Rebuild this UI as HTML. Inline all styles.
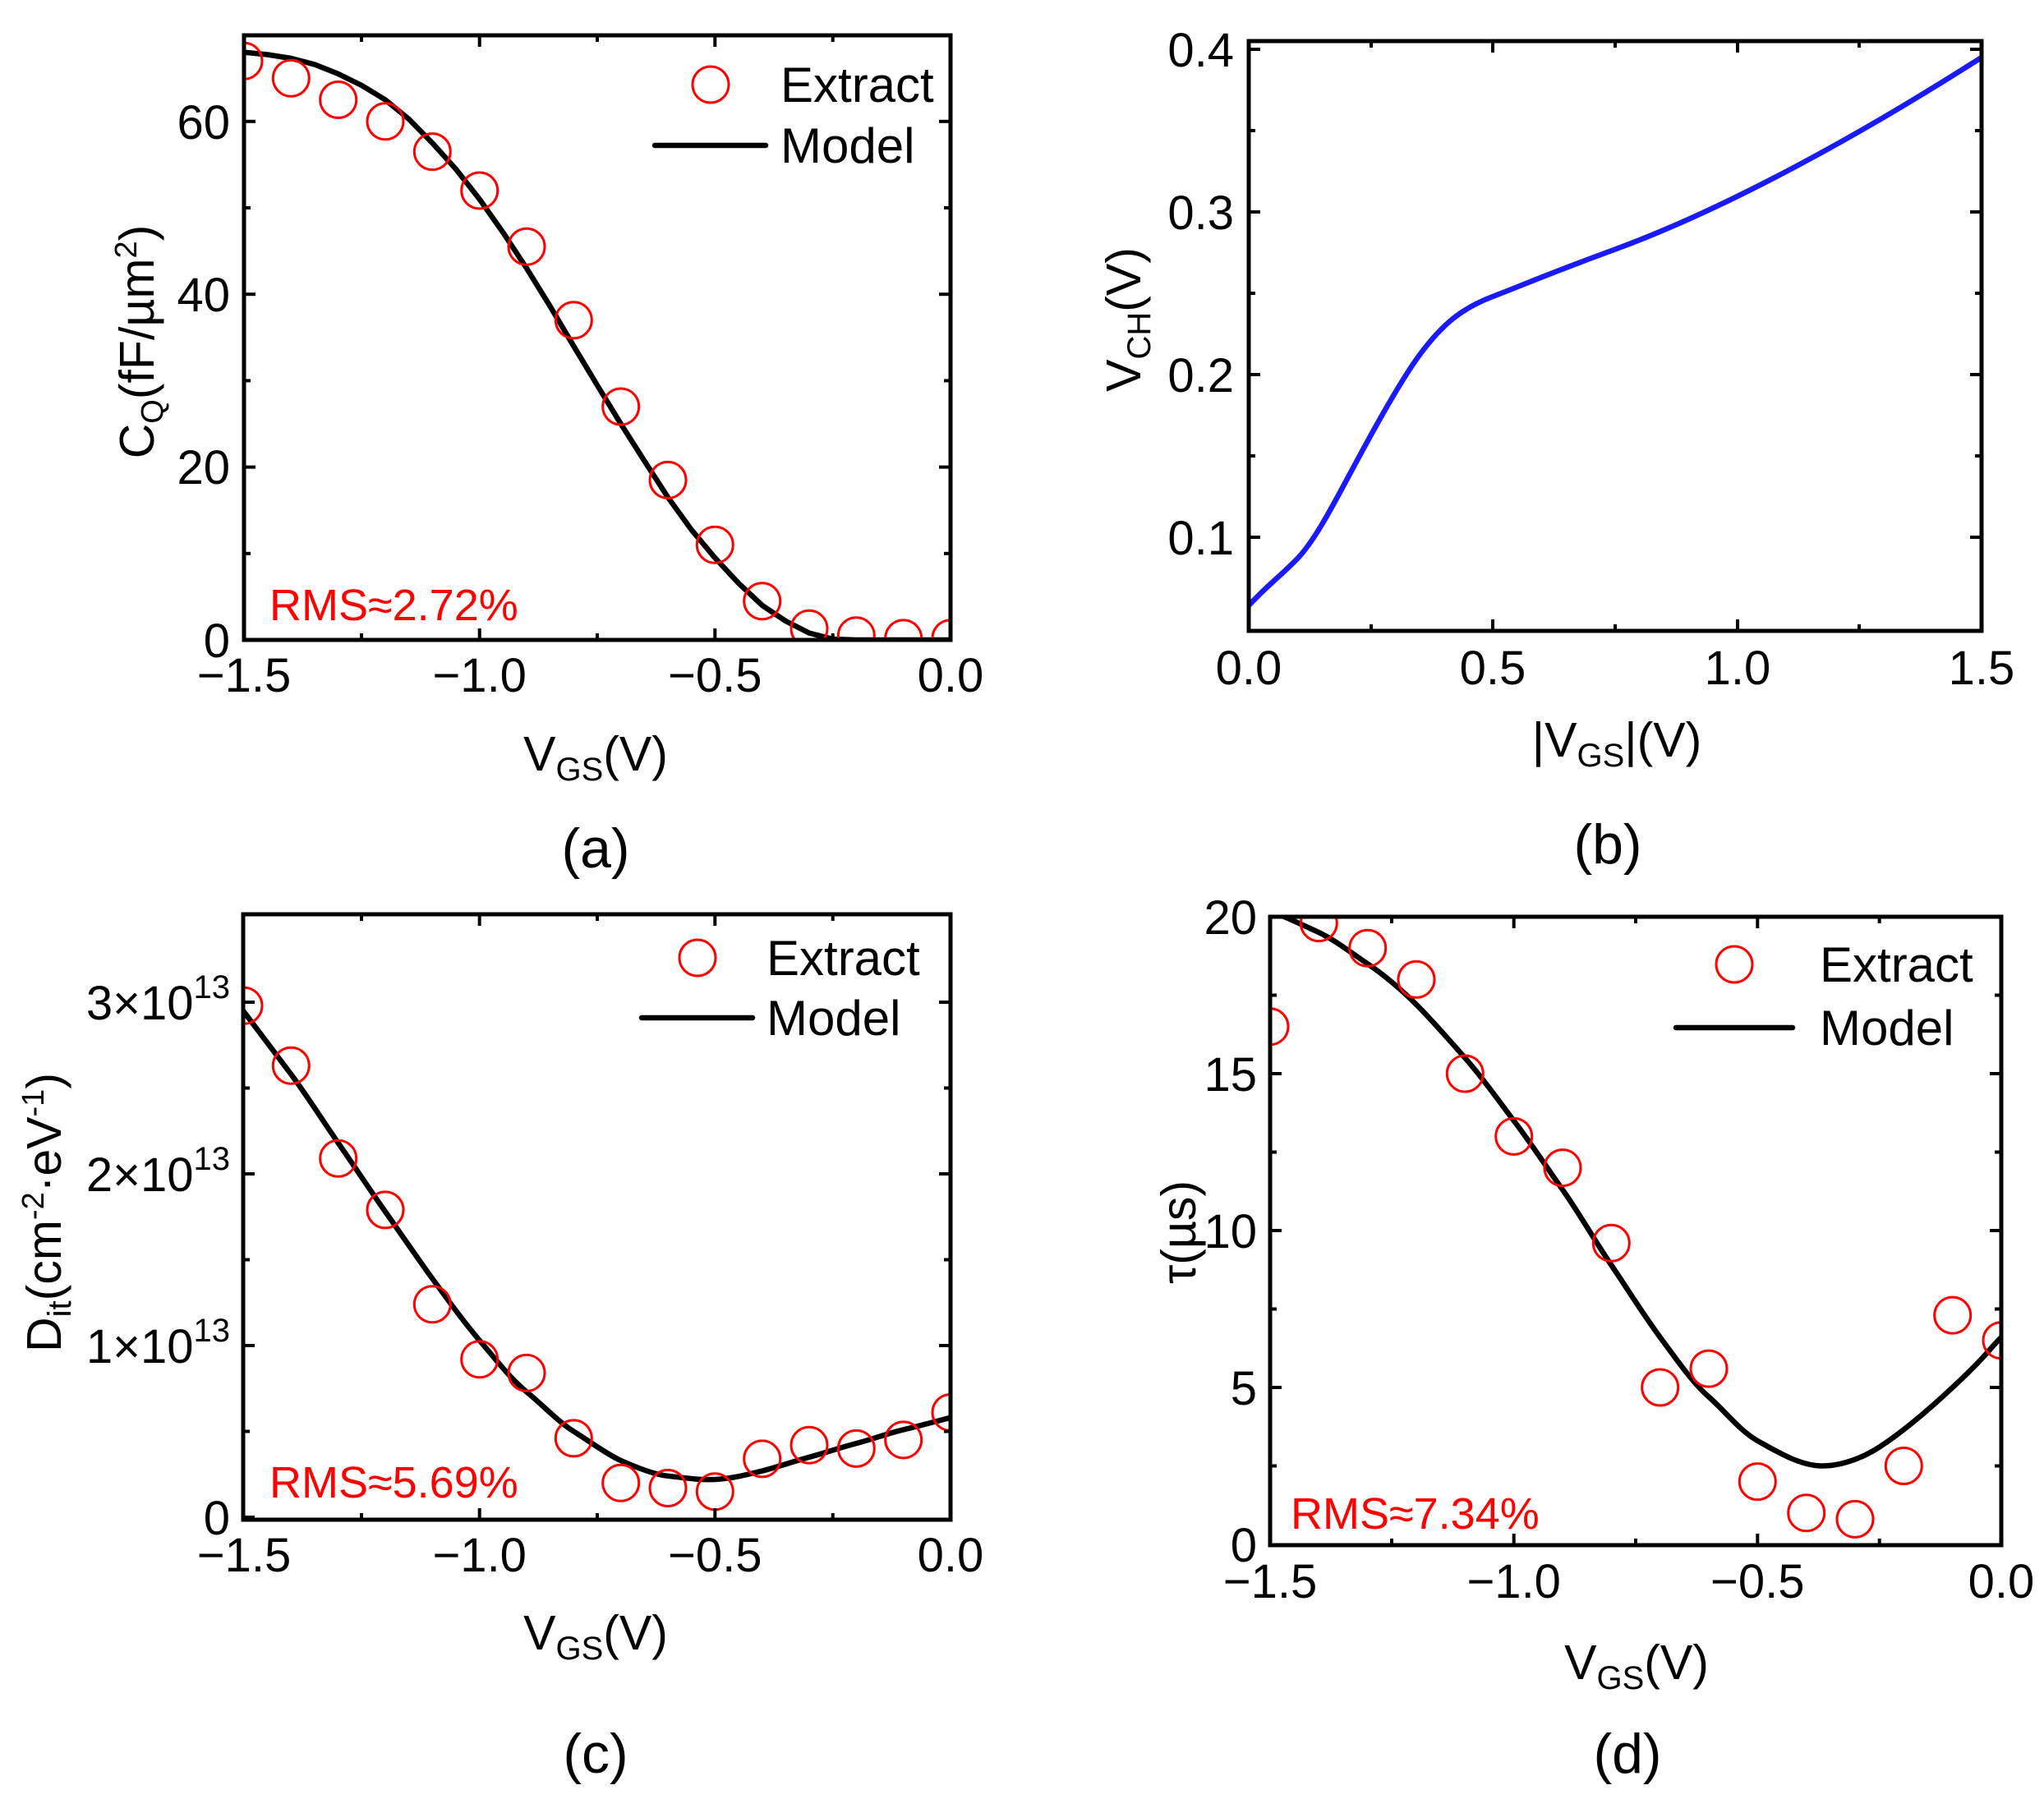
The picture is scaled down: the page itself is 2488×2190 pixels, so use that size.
<!DOCTYPE html>
<html><head><meta charset="utf-8"><style>
html,body{margin:0;padding:0;background:#fff;}
svg{display:block;}
text{font-family:"Liberation Sans",Arial,sans-serif;fill:#000;}
.t{font-size:58px;}
.tt{font-size:59px;}
.lg{font-size:60px;}
.rms{font-size:54px;fill:#ff0000;}
.pl{font-size:68px;}
.ax{fill:none;stroke:#000;stroke-width:5;}
.tk{stroke:#000;stroke-width:4;}
.m{fill:none;stroke:#000;stroke-width:6.5;stroke-linejoin:round;stroke-linecap:round;}
.c{fill:none;stroke:#ff0000;stroke-width:3;}
</style></head><body>
<svg width="2488" height="2190" viewBox="0 0 2488 2190" xmlns="http://www.w3.org/2000/svg">
<defs>
<clipPath id="ca"><rect x="297" y="43" width="860" height="736"/></clipPath>
<clipPath id="cb"><rect x="1520" y="50" width="892" height="718"/></clipPath>
<clipPath id="cc"><rect x="296" y="1113" width="861" height="737"/></clipPath>
<clipPath id="cd"><rect x="1546" y="1116" width="890" height="765"/></clipPath>
</defs>

<!-- ===== Panel A ===== -->
<g clip-path="url(#ca)">
<polyline class="m" points="297,63.6 325.7,66.5 354.3,71 383,78.5 411.7,89.9 440.3,104 469,121.5 497.7,145 526.3,174.1 555,206 583.7,242.5 612.3,283 641,326.6 669.7,373 698.3,421.3 727,469 755.7,516 784.3,561 813,605.4 841.7,645 870.3,679.1 899,710 927.7,736.9 956.3,756 985,770.6 1013.7,778 1042,779 1157,779"/>
<g class="c">
<circle cx="297" cy="74.2" r="22"/><circle cx="354.3" cy="95.2" r="22"/><circle cx="411.7" cy="121.5" r="22"/><circle cx="469" cy="147.8" r="22"/><circle cx="526.3" cy="184.6" r="22"/><circle cx="583.7" cy="232" r="22"/><circle cx="641" cy="300.3" r="22"/><circle cx="698.3" cy="389.8" r="22"/><circle cx="755.7" cy="495" r="22"/><circle cx="813" cy="584.4" r="22"/><circle cx="870.3" cy="663.3" r="22"/><circle cx="927.7" cy="731.7" r="22"/><circle cx="985" cy="765.3" r="22"/><circle cx="1042.3" cy="773.7" r="22"/><circle cx="1099.7" cy="776.9" r="22"/><circle cx="1157" cy="776.9" r="22"/>
</g></g>
<rect class="ax" x="297" y="43" width="860" height="736"/>
<g class="tk">
<line x1="297" y1="779" x2="311" y2="779"/><line x1="297" y1="568.6" x2="311" y2="568.6"/><line x1="297" y1="358.2" x2="311" y2="358.2"/><line x1="297" y1="147.8" x2="311" y2="147.8"/>
<line x1="297" y1="673.8" x2="305" y2="673.8"/><line x1="297" y1="463.4" x2="305" y2="463.4"/><line x1="297" y1="253" x2="305" y2="253"/>
<line x1="1157" y1="568.6" x2="1143" y2="568.6"/><line x1="1157" y1="358.2" x2="1143" y2="358.2"/><line x1="1157" y1="147.8" x2="1143" y2="147.8"/>
<line x1="1157" y1="673.8" x2="1149" y2="673.8"/><line x1="1157" y1="463.4" x2="1149" y2="463.4"/><line x1="1157" y1="253" x2="1149" y2="253"/>
<line x1="583.7" y1="779" x2="583.7" y2="765"/><line x1="870.3" y1="779" x2="870.3" y2="765"/>
<line x1="440" y1="779" x2="440" y2="771"/><line x1="727" y1="779" x2="727" y2="771"/><line x1="1013.7" y1="779" x2="1013.7" y2="771"/>
<line x1="583.7" y1="43" x2="583.7" y2="57"/><line x1="870.3" y1="43" x2="870.3" y2="57"/>
<line x1="440" y1="43" x2="440" y2="51"/><line x1="727" y1="43" x2="727" y2="51"/><line x1="1013.7" y1="43" x2="1013.7" y2="51"/>
</g>
<g class="t" text-anchor="end">
<text x="280" y="800">0</text><text x="280" y="589">20</text><text x="280" y="379">40</text><text x="280" y="169">60</text>
</g>
<g class="t" text-anchor="middle">
<text x="297" y="842">−1.5</text><text x="583.7" y="842">−1.0</text><text x="870.3" y="842">−0.5</text><text x="1157" y="842">0.0</text>
</g>
<text class="tt" transform="translate(187,416) rotate(-90)" text-anchor="middle">C<tspan font-size="38" dy="11">Q</tspan><tspan dy="-11">(fF/µm</tspan><tspan font-size="38" dy="-21">2</tspan><tspan dy="21">)</tspan></text>
<text class="tt" x="725" y="938" text-anchor="middle">V<tspan font-size="40" dy="12">GS</tspan><tspan dy="-12">(V)</tspan></text>
<text class="pl" x="725" y="1056" text-anchor="middle">(a)</text>
<text class="rms" x="328" y="755">RMS≈2.72%</text>
<circle class="c" cx="865" cy="103" r="22"/>
<text class="lg" x="950" y="124">Extract</text>
<line class="m" x1="797" y1="177" x2="932" y2="177"/>
<text class="lg" x="950" y="198">Model</text>

<!-- ===== Panel B ===== -->
<g clip-path="url(#cb)">
<path fill="none" stroke="#1a1aff" stroke-width="6.5" stroke-linejoin="round" d="M1520,737.2 C1540,715 1560,700 1579.5,679.7 S1620,620 1638.9,584.7 S1700,470 1728,432 S1780,375 1817,361 S1880,335 1966,303.5 S2200,205 2412,69.9"/>
</g>
<rect class="ax" x="1520" y="50" width="892" height="718"/>
<g class="tk">
<line x1="1520" y1="654" x2="1534" y2="654"/><line x1="1520" y1="456" x2="1534" y2="456"/><line x1="1520" y1="258" x2="1534" y2="258"/><line x1="1520" y1="60" x2="1534" y2="60"/>
<line x1="1520" y1="555" x2="1528" y2="555"/><line x1="1520" y1="357" x2="1528" y2="357"/><line x1="1520" y1="159" x2="1528" y2="159"/>
<line x1="2412" y1="654" x2="2398" y2="654"/><line x1="2412" y1="456" x2="2398" y2="456"/><line x1="2412" y1="258" x2="2398" y2="258"/><line x1="2412" y1="60" x2="2398" y2="60"/>
<line x1="2412" y1="555" x2="2404" y2="555"/><line x1="2412" y1="357" x2="2404" y2="357"/><line x1="2412" y1="159" x2="2404" y2="159"/>
<line x1="1817" y1="768" x2="1817" y2="754"/><line x1="2115" y1="768" x2="2115" y2="754"/>
<line x1="1669" y1="768" x2="1669" y2="760"/><line x1="1966" y1="768" x2="1966" y2="760"/><line x1="2263" y1="768" x2="2263" y2="760"/>
<line x1="1817" y1="50" x2="1817" y2="64"/><line x1="2115" y1="50" x2="2115" y2="64"/>
<line x1="1669" y1="50" x2="1669" y2="58"/><line x1="1966" y1="50" x2="1966" y2="58"/><line x1="2263" y1="50" x2="2263" y2="58"/>
</g>
<g class="t" text-anchor="end">
<text x="1502" y="675">0.1</text><text x="1502" y="477">0.2</text><text x="1502" y="279">0.3</text><text x="1502" y="81">0.4</text>
</g>
<g class="t" text-anchor="middle">
<text x="1520" y="833">0.0</text><text x="1817" y="833">0.5</text><text x="2115" y="833">1.0</text><text x="2412" y="833">1.5</text>
</g>
<text class="tt" transform="translate(1388,389) rotate(-90)" text-anchor="middle">V<tspan font-size="40" dy="12">CH</tspan><tspan dy="-12">(V)</tspan></text>
<text class="tt" x="1968" y="921" text-anchor="middle">|V<tspan font-size="40" dy="12">GS</tspan><tspan dy="-12">|(V)</tspan></text>
<text class="pl" x="1957" y="1051" text-anchor="middle">(b)</text>

<!-- ===== Panel C ===== -->
<g clip-path="url(#cc)">
<path class="m" d="M296,1230.5 C315,1256 335,1282 354.3,1307.8 S392,1363 411.7,1391.4 S450,1448 469,1475 S507,1530 526.3,1556.5 S565,1610 583.7,1631.7 S620,1677 641,1694.4 S680,1731 698.3,1742.5 S740,1771 755.7,1778 S795,1795 813,1796.8 S850,1802 870.3,1801 S910,1795 927.7,1790.6 S966,1779 985,1773.9 S1023,1762 1042.3,1757.1 S1080,1745 1099.7,1740.4 S1140,1730 1157,1725.8"/>
<g class="c">
<circle cx="297" cy="1224.2" r="22"/><circle cx="354.3" cy="1297.3" r="22"/><circle cx="411.7" cy="1410.2" r="22"/><circle cx="469" cy="1472.9" r="22"/><circle cx="526.3" cy="1587.8" r="22"/><circle cx="583.7" cy="1654.7" r="22"/><circle cx="641" cy="1671.4" r="22"/><circle cx="698.3" cy="1750.9" r="22"/><circle cx="755.7" cy="1805.2" r="22"/><circle cx="813" cy="1811.5" r="22"/><circle cx="870.3" cy="1815.7" r="22"/><circle cx="927.7" cy="1775.9" r="22"/><circle cx="985" cy="1759.2" r="22"/><circle cx="1042.3" cy="1763.4" r="22"/><circle cx="1099.7" cy="1752.9" r="22"/><circle cx="1157" cy="1719.5" r="22"/>
</g></g>
<rect class="ax" x="296" y="1113" width="861" height="737"/>
<g class="tk">
<line x1="296" y1="1847" x2="310" y2="1847"/><line x1="296" y1="1638" x2="310" y2="1638"/><line x1="296" y1="1429" x2="310" y2="1429"/><line x1="296" y1="1220" x2="310" y2="1220"/>
<line x1="296" y1="1742.5" x2="304" y2="1742.5"/><line x1="296" y1="1533.5" x2="304" y2="1533.5"/><line x1="296" y1="1324.5" x2="304" y2="1324.5"/>
<line x1="1157" y1="1638" x2="1143" y2="1638"/><line x1="1157" y1="1429" x2="1143" y2="1429"/><line x1="1157" y1="1220" x2="1143" y2="1220"/>
<line x1="1157" y1="1742.5" x2="1149" y2="1742.5"/><line x1="1157" y1="1533.5" x2="1149" y2="1533.5"/><line x1="1157" y1="1324.5" x2="1149" y2="1324.5"/>
<line x1="583.7" y1="1850" x2="583.7" y2="1836"/><line x1="870.3" y1="1850" x2="870.3" y2="1836"/>
<line x1="440" y1="1850" x2="440" y2="1842"/><line x1="727" y1="1850" x2="727" y2="1842"/><line x1="1013.7" y1="1850" x2="1013.7" y2="1842"/>
<line x1="583.7" y1="1113" x2="583.7" y2="1127"/><line x1="870.3" y1="1113" x2="870.3" y2="1127"/>
<line x1="440" y1="1113" x2="440" y2="1121"/><line x1="727" y1="1113" x2="727" y2="1121"/><line x1="1013.7" y1="1113" x2="1013.7" y2="1121"/>
</g>
<g class="t" text-anchor="end">
<text x="280" y="1868">0</text>
<text x="280" y="1659">1×10<tspan font-size="40" dy="-26">13</tspan></text>
<text x="280" y="1450">2×10<tspan font-size="40" dy="-26">13</tspan></text>
<text x="280" y="1241">3×10<tspan font-size="40" dy="-26">13</tspan></text>
</g>
<g class="t" text-anchor="middle">
<text x="297" y="1913">−1.5</text><text x="583.7" y="1913">−1.0</text><text x="870.3" y="1913">−0.5</text><text x="1157" y="1913">0.0</text>
</g>
<text class="tt" transform="translate(74,1476) rotate(-90)" text-anchor="middle">D<tspan font-size="40" dy="12">it</tspan><tspan dy="-12">(cm</tspan><tspan font-size="38" dy="-21">-2</tspan><tspan dy="21">·eV</tspan><tspan font-size="38" dy="-21">-1</tspan><tspan dy="21">)</tspan></text>
<text class="tt" x="725" y="2008" text-anchor="middle">V<tspan font-size="40" dy="12">GS</tspan><tspan dy="-12">(V)</tspan></text>
<text class="pl" x="725" y="2158" text-anchor="middle">(c)</text>
<text class="rms" x="328" y="1823">RMS≈5.69%</text>
<circle class="c" cx="849" cy="1166" r="22"/>
<text class="lg" x="933" y="1187">Extract</text>
<line class="m" x1="781" y1="1239" x2="916" y2="1239"/>
<text class="lg" x="933" y="1260">Model</text>

<!-- ===== Panel D ===== -->
<g clip-path="url(#cd)">
<path class="m" d="M1546,1108.4 C1566,1117 1586,1126 1605.3,1135.1 S1645,1160 1664.7,1173.3 S1704,1203 1724,1222.9 S1763,1265 1783.3,1287.9 S1822,1337 1842.7,1364.3 S1882,1420 1902,1448.3 S1941,1510 1961.3,1540 S2000,1600 2020.7,1627.9 S2060,1683 2080,1700.5 S2118,1742 2139.3,1753.9 S2190,1784 2216.5,1784.5 S2270,1773 2287,1762 S2335,1728 2376.7,1689 S2420,1644 2436,1627.9"/>
<g class="c">
<circle cx="1546" cy="1249.7" r="22"/><circle cx="1605.3" cy="1123.6" r="22"/><circle cx="1664.7" cy="1154.2" r="22"/><circle cx="1724" cy="1192.4" r="22"/><circle cx="1783.3" cy="1307" r="22"/><circle cx="1842.7" cy="1383.4" r="22"/><circle cx="1902" cy="1421.6" r="22"/><circle cx="1961.3" cy="1513.3" r="22"/><circle cx="2020.7" cy="1689" r="22"/><circle cx="2080" cy="1666.1" r="22"/><circle cx="2139.3" cy="1803.6" r="22"/><circle cx="2198.7" cy="1841.8" r="22"/><circle cx="2258" cy="1849.4" r="22"/><circle cx="2317.3" cy="1784.5" r="22"/><circle cx="2376.7" cy="1601.1" r="22"/><circle cx="2436" cy="1631.7" r="22"/>
</g></g>
<rect class="ax" x="1546" y="1116" width="890" height="765"/>
<g class="tk">
<line x1="1546" y1="1689" x2="1560" y2="1689"/><line x1="1546" y1="1498" x2="1560" y2="1498"/><line x1="1546" y1="1307" x2="1560" y2="1307"/>
<line x1="1546" y1="1784.5" x2="1554" y2="1784.5"/><line x1="1546" y1="1593.5" x2="1554" y2="1593.5"/><line x1="1546" y1="1402.5" x2="1554" y2="1402.5"/><line x1="1546" y1="1211.5" x2="1554" y2="1211.5"/>
<line x1="2436" y1="1689" x2="2422" y2="1689"/><line x1="2436" y1="1498" x2="2422" y2="1498"/><line x1="2436" y1="1307" x2="2422" y2="1307"/>
<line x1="2436" y1="1784.5" x2="2428" y2="1784.5"/><line x1="2436" y1="1593.5" x2="2428" y2="1593.5"/><line x1="2436" y1="1402.5" x2="2428" y2="1402.5"/><line x1="2436" y1="1211.5" x2="2428" y2="1211.5"/>
<line x1="1842.7" y1="1881" x2="1842.7" y2="1867"/><line x1="2139.3" y1="1881" x2="2139.3" y2="1867"/>
<line x1="1694" y1="1881" x2="1694" y2="1873"/><line x1="1991" y1="1881" x2="1991" y2="1873"/><line x1="2287.7" y1="1881" x2="2287.7" y2="1873"/>
<line x1="1842.7" y1="1116" x2="1842.7" y2="1130"/><line x1="2139.3" y1="1116" x2="2139.3" y2="1130"/>
<line x1="1694" y1="1116" x2="1694" y2="1124"/><line x1="1991" y1="1116" x2="1991" y2="1124"/><line x1="2287.7" y1="1116" x2="2287.7" y2="1124"/>
</g>
<g class="t" text-anchor="end">
<text x="1530" y="1901">0</text><text x="1530" y="1710">5</text><text x="1530" y="1519">10</text><text x="1530" y="1328">15</text><text x="1530" y="1137">20</text>
</g>
<g class="t" text-anchor="middle">
<text x="1546" y="1945">−1.5</text><text x="1842.7" y="1945">−1.0</text><text x="2139.3" y="1945">−0.5</text><text x="2436" y="1945">0.0</text>
</g>
<text class="tt" transform="translate(1455,1500) rotate(-90)" text-anchor="middle">τ(µs)</text>
<text class="tt" x="1992" y="2044" text-anchor="middle">V<tspan font-size="40" dy="12">GS</tspan><tspan dy="-12">(V)</tspan></text>
<text class="pl" x="1981" y="2158" text-anchor="middle">(d)</text>
<text class="rms" x="1571" y="1861">RMS≈7.34%</text>
<circle class="c" cx="2111" cy="1174" r="22"/>
<text class="lg" x="2215" y="1195">Extract</text>
<line class="m" x1="2040" y1="1251" x2="2182" y2="1251"/>
<text class="lg" x="2215" y="1272">Model</text>
</svg>
</body></html>
